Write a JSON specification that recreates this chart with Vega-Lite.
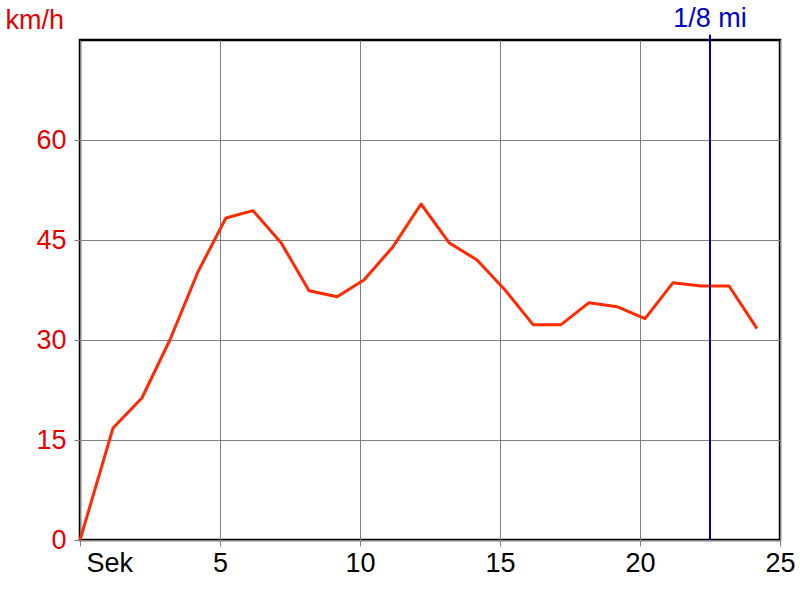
{
  "$schema": "https://vega.github.io/schema/vega-lite/v6.json",
  "width": 700,
  "height": 500,
  "autosize": {"type": "none"},
  "padding": {"left": 80, "top": 40, "right": 20, "bottom": 60},
  "background": "white",
  "config": {
    "view": {"stroke": "black", "strokeWidth": 2.5},
    "font": "Liberation Sans",
    "axis": {"gridColor": "#808080", "gridWidth": 1, "gridOpacity": 1, "tickColor": "#808080", "domain": false, "labelFont": "Liberation Sans", "titleFont": "Liberation Sans"}
  },
  "datasets": {
    "speed": [
      {"t": 0, "kmh": 0},
      {"t": 1.18, "kmh": 16.8},
      {"t": 2.21, "kmh": 21.3},
      {"t": 3.21, "kmh": 30.0},
      {"t": 4.21, "kmh": 40.2},
      {"t": 5.21, "kmh": 48.3},
      {"t": 6.18, "kmh": 49.4},
      {"t": 7.18, "kmh": 44.6},
      {"t": 8.18, "kmh": 37.4},
      {"t": 9.18, "kmh": 36.5},
      {"t": 10.14, "kmh": 39.0},
      {"t": 11.18, "kmh": 44.0},
      {"t": 12.18, "kmh": 50.4},
      {"t": 13.18, "kmh": 44.6},
      {"t": 14.18, "kmh": 42.0},
      {"t": 15.18, "kmh": 37.5},
      {"t": 16.18, "kmh": 32.3},
      {"t": 17.18, "kmh": 32.3},
      {"t": 18.18, "kmh": 35.6},
      {"t": 19.18, "kmh": 35.0},
      {"t": 20.18, "kmh": 33.2},
      {"t": 21.18, "kmh": 38.6},
      {"t": 22.18, "kmh": 38.1},
      {"t": 23.18, "kmh": 38.1},
      {"t": 24.18, "kmh": 31.7}
    ],
    "marker": [{"t": 22.5, "label": "1/8 mi"}]
  },
  "layer": [
    {
      "data": {"name": "speed"},
      "mark": {"type": "line", "color": "#ff2a00", "strokeWidth": 3, "strokeJoin": "round"},
      "encoding": {
        "x": {
          "field": "t", "type": "quantitative",
          "scale": {"domain": [0, 25], "nice": false, "zero": false},
          "axis": {
            "values": [0, 5, 10, 15, 20, 25],
            "title": null,
            "labelExpr": "datum.value == 0 ? 'Sek' : datum.label",
            "labelAlign": {"condition": {"test": "datum.value == 0", "value": "left"}, "value": "center"},
            "labelOffset": {"condition": {"test": "datum.value == 0", "value": 6}, "value": 0},
            "labelColor": "black",
            "labelFontSize": 27,
            "labelPadding": 4,
            "tickSize": 6,
            "labelFlush": false,
            "labelOverlap": false
          }
        },
        "y": {
          "field": "kmh", "type": "quantitative",
          "scale": {"domain": [0, 75], "nice": false},
          "axis": {
            "values": [0, 15, 30, 45, 60],
            "title": "km/h",
            "titleAngle": 0,
            "titleAlign": "left",
            "titleBaseline": "alphabetic",
            "titleX": -75,
            "titleY": -12,
            "titleColor": "#e60000",
            "titleFontSize": 27,
            "titleFontWeight": "normal",
            "labelColor": "#e60000",
            "labelFontSize": 27,
            "labelPadding": 8,
            "tickSize": 6
          }
        }
      }
    },
    {
      "data": {"name": "marker"},
      "mark": {"type": "rule", "color": "#0000b4", "strokeWidth": 2, "clip": false},
      "encoding": {
        "x": {"field": "t", "type": "quantitative"},
        "y": {"datum": 0},
        "y2": {"datum": 75.8}
      }
    },
    {
      "data": {"name": "marker"},
      "mark": {"type": "text", "color": "#0000cc", "fontSize": 27, "font": "Liberation Sans", "align": "center", "baseline": "alphabetic", "clip": false},
      "encoding": {
        "x": {"field": "t", "type": "quantitative"},
        "y": {"datum": 76.9},
        "text": {"field": "label"}
      }
    }
  ]
}
